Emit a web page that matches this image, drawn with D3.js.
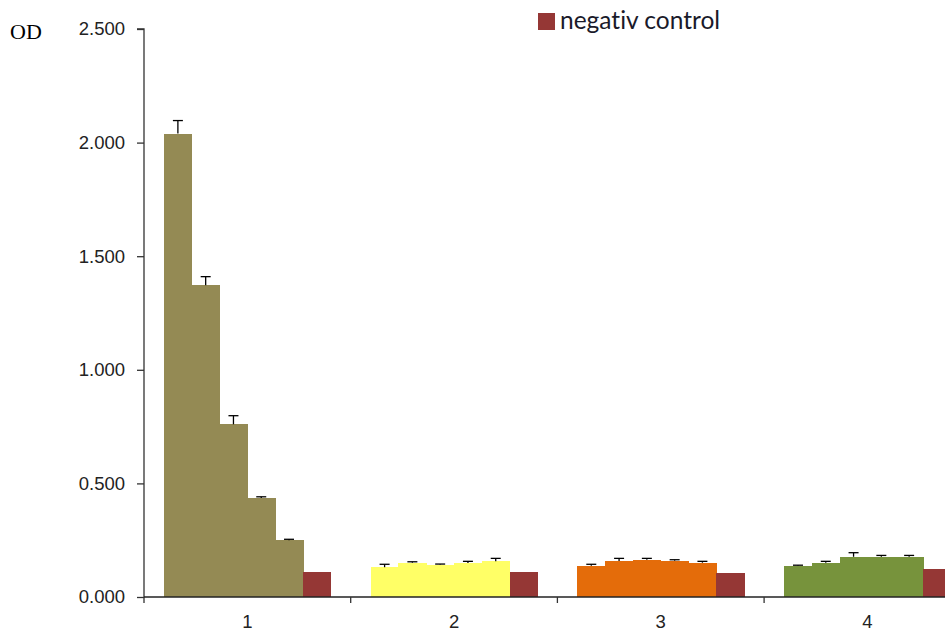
<!DOCTYPE html>
<html>
<head>
<meta charset="utf-8">
<script src="https://cdn.jsdelivr.net/npm/d3@7"></script>
<style>
  html, body { margin: 0; padding: 0; background: #fff; }
  svg { display: block; }
  text { font-variant-ligatures: none; font-feature-settings: "liga" 0, "clig" 0; }
</style>
</head>
<body>
<script>
// ---- data ----
const categories = ["1", "2", "3", "4"];
const group1 = [2.040, 1.372, 0.760, 0.436, 0.250];
const group2 = [0.131, 0.151, 0.143, 0.150, 0.157];
const group3 = [0.138, 0.158, 0.164, 0.160, 0.151];
const group4 = [0.138, 0.151, 0.177, 0.177, 0.177];
const err1 = [0.057, 0.038, 0.038, 0.005, 0.004];
const err2 = [0.013, 0.004, 0.002, 0.007, 0.013];
const err3 = [0.006, 0.012, 0.006, 0.004, 0.006];
const err4 = [0.002, 0.006, 0.018, 0.006, 0.006];
const negControl = [0.110, 0.111, 0.104, 0.123];
const yTicks = [0, 0.5, 1.0, 1.5, 2.0, 2.5];
const legendLabel = "negativ control";
const yLabel = "OD";

const groupColors = ["#948A54", "#FFFF66", "#E46C0A", "#77933C"];
const negColor = "#953735";

const groups = [group1, group2, group3, group4];
const errs = [err1, err2, err3, err4];

// ---- layout ----
const W = 945, H = 631;
const x0 = 144, catW = 206.7, y0 = 597, yTop = 29;

const svg = d3.select("body").append("svg").attr("width", W).attr("height", H);

const x = d3.scaleBand().domain(categories).range([x0, x0 + catW * categories.length]).padding(0);
const inner = d3.scaleBand().domain(d3.range(6)).range([20, catW - 20]).padding(0);
const y = d3.scaleLinear().domain([0, 2.5]).range([y0, yTop]);

// bars
categories.forEach((c, gi) => {
  const g = svg.append("g").attr("transform", `translate(${x(c)},0)`);
  const vals = groups[gi].map((v, i) => ({ v, e: errs[gi][i], i, color: groupColors[gi] }));
  vals.push({ v: negControl[gi], e: null, i: 5, color: negColor });
  g.selectAll("rect").data(vals).join("rect")
    .attr("x", d => inner(d.i))
    .attr("width", inner.bandwidth() + 0.6)
    .attr("y", d => y(d.v))
    .attr("height", d => y(0) - y(d.v))
    .attr("fill", d => d.color)
    .attr("shape-rendering", "crispEdges");
  const eb = vals.filter(d => d.e != null);
  g.selectAll("line.err").data(eb).join("line").attr("class", "err")
    .attr("x1", d => inner(d.i) + inner.bandwidth() / 2)
    .attr("x2", d => inner(d.i) + inner.bandwidth() / 2)
    .attr("y1", d => y(d.v))
    .attr("y2", d => y(d.v + d.e))
    .attr("stroke", "#000").attr("stroke-width", 1.3);
  g.selectAll("line.cap").data(eb).join("line").attr("class", "cap")
    .attr("x1", d => inner(d.i) + inner.bandwidth() / 2 - 5)
    .attr("x2", d => inner(d.i) + inner.bandwidth() / 2 + 5)
    .attr("y1", d => y(d.v + d.e))
    .attr("y2", d => y(d.v + d.e))
    .attr("stroke", "#000").attr("stroke-width", 1.3);
});

// y axis
const yAxis = d3.axisLeft(y).tickValues(yTicks).tickFormat(d3.format(".3f")).tickSize(7).tickPadding(12);
const ya = svg.append("g").attr("transform", `translate(${x0},0)`).call(yAxis);
ya.select(".domain").attr("stroke", "#333").attr("stroke-width", 1.3).attr("d", `M-7,${yTop}H0V${y0 + 6}`);
ya.selectAll(".tick line").attr("stroke", "#333").attr("stroke-width", 1.3);
ya.selectAll(".tick text").attr("font-family", "'Liberation Sans', Arial, sans-serif").attr("font-size", 18.5).attr("fill", "#222");

// x axis
const xAxis = d3.axisBottom(x).tickSize(0).tickPadding(18);
const xa = svg.append("g").attr("transform", `translate(0,${y0})`).call(xAxis);
xa.select(".domain").attr("stroke", "#222").attr("stroke-width", 1.3).attr("d", `M${x0},0H${x0 + catW * categories.length}`);
xa.selectAll(".tick text").attr("font-family", "'Liberation Sans', Arial, sans-serif").attr("font-size", 18.5).attr("fill", "#222");
xa.selectAll("line.bound").data(categories.slice(1).concat(["__end"])).join("line").attr("class", "bound")
  .attr("x1", d => d === "__end" ? x0 + catW * categories.length : x(d))
  .attr("x2", d => d === "__end" ? x0 + catW * categories.length : x(d))
  .attr("y1", 0).attr("y2", 6).attr("stroke", "#333").attr("stroke-width", 1.3);

// y label
svg.append("text").attr("x", 10).attr("y", 39).text(yLabel)
  .attr("font-family", "'Liberation Serif', 'Times New Roman', serif").attr("font-size", 22).attr("fill", "#000");

// legend
svg.append("rect").attr("x", 538).attr("y", 13).attr("width", 17).attr("height", 17).attr("fill", negColor);
svg.append("text").attr("x", 560).attr("y", 29).text(legendLabel)
  .attr("font-family", "Lato, 'Open Sans', sans-serif").attr("font-size", 24.5).attr("fill", "#1a1a2a");
</script>
</body>
</html>
